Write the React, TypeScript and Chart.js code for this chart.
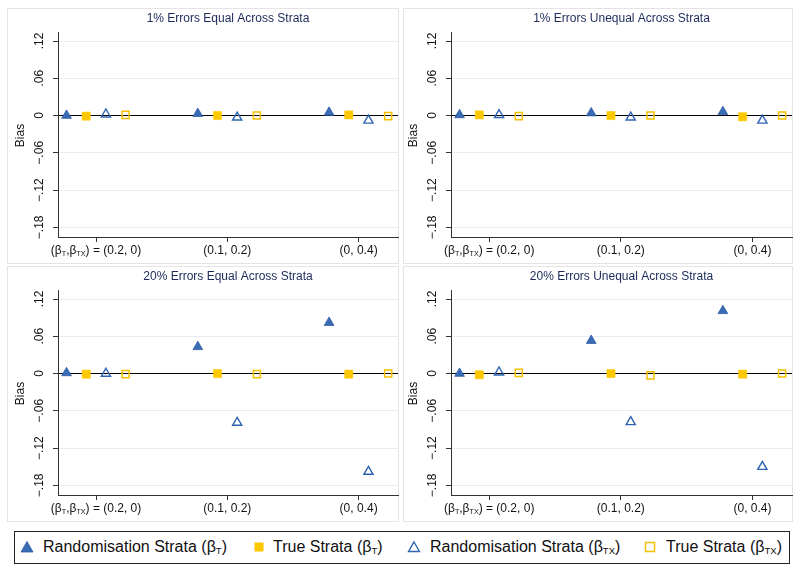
import React, { useEffect, useRef } from 'react';
import { Chart, registerables } from 'chart.js';

Chart.register(...registerables);

const FONT = '"Liberation Sans", Arial, Helvetica, sans-serif';

// ---- data ----
const GROUP_X = [1, 2, 3];
const GROUP_LABELS = ['(β{T},β{TX}) = (0.2, 0)', '(0.1, 0.2)', '(0, 0.4)'];
const Y_TICKS = [0.12, 0.06, 0, -0.06, -0.12, -0.18];
const Y_TICK_LABELS = ['.12', '.06', '0', '−.06', '−.12', '−.18'];
const Y_TITLE = 'Bias';
const SERIES_NAMES = [
  'Randomisation Strata (β{T})',
  'True Strata (β{T})',
  'Randomisation Strata (β{TX})',
  'True Strata (β{TX})',
];
const PANEL_TITLES = [
  '1% Errors Equal Across Strata',
  '1% Errors Unequal Across Strata',
  '20% Errors Equal Across Strata',
  '20% Errors Unequal Across Strata',
];

// 1% errors, equal across strata
const P1_RAND_T = [0.0, 0.003, 0.005];
const P1_TRUE_T = [-0.001, 0.0, 0.001];
const P1_RAND_TX = [0.002, -0.003, -0.008];
const P1_TRUE_TX = [0.001, 0.0, -0.001];
// 1% errors, unequal across strata
const P2_RAND_T = [0.001, 0.004, 0.006];
const P2_TRUE_T = [0.001, 0.0, -0.002];
const P2_RAND_TX = [0.001, -0.003, -0.008];
const P2_TRUE_TX = [-0.001, 0.0, 0.0];
// 20% errors, equal across strata
const P3_RAND_T = [0.001, 0.043, 0.082];
const P3_TRUE_T = [-0.001, 0.0, -0.001];
const P3_RAND_TX = [0.0, -0.079, -0.158];
const P3_TRUE_TX = [-0.001, -0.001, 0.0];
// 20% errors, unequal across strata
const P4_RAND_T = [0.0, 0.053, 0.101];
const P4_TRUE_T = [-0.002, 0.0, -0.001];
const P4_RAND_TX = [0.002, -0.078, -0.15];
const P4_TRUE_TX = [0.001, -0.003, 0.0];

// ---- styling ----
const DODGE = [-0.225, -0.075, 0.075, 0.225];
const BLUE = '#3a6cb5';
const BLUE_EDGE = '#2c5ca6';
const YELLOW = '#fdc800';
const SERIES_STYLES = [
  { pointStyle: 'triangle', radius: 5.6, bg: BLUE, border: BLUE_EDGE, bw: 0.8 },
  { pointStyle: 'rect', radius: 5.8, bg: YELLOW, border: YELLOW, bw: 0.5 },
  { pointStyle: 'triangle', radius: 5.3, bg: 'rgba(255,255,255,0)', border: '#2f64b2', bw: 1.4 },
  { pointStyle: 'rect', radius: 5.0, bg: 'rgba(255,255,255,0)', border: '#f4c000', bw: 1.5 },
];

function parseRich(s: string) {
  const out: { t: string; sub: boolean }[] = [];
  const re = /\{([^}]*)\}/g;
  let last = 0;
  let m: RegExpExecArray | null;
  while ((m = re.exec(s))) {
    if (m.index > last) out.push({ t: s.slice(last, m.index), sub: false });
    out.push({ t: m[1], sub: true });
    last = re.lastIndex;
  }
  if (last < s.length) out.push({ t: s.slice(last), sub: false });
  return out;
}

function drawRich(ctx: CanvasRenderingContext2D, s: string, cx: number, cy: number, size: number) {
  const segs = parseRich(s);
  const subSize = size * 0.6;
  let w = 0;
  segs.forEach((sg) => {
    ctx.font = `${sg.sub ? subSize : size}px ${FONT}`;
    w += ctx.measureText(sg.t).width;
  });
  let x = cx - w / 2;
  const base = cy + size * 0.36;
  ctx.textAlign = 'left';
  ctx.textBaseline = 'alphabetic';
  segs.forEach((sg) => {
    ctx.font = `${sg.sub ? subSize : size}px ${FONT}`;
    ctx.fillText(sg.t, x, sg.sub ? base + size * 0.12 : base);
    x += ctx.measureText(sg.t).width;
  });
}

type PanelProps = {
  left: number;
  top: number;
  width: number;
  height: number;
  axisWidth: number;
  title: string;
  series: number[][];
};

function Panel({ left, top, width, height, axisWidth, title, series }: PanelProps) {
  const ref = useRef<HTMLCanvasElement | null>(null);
  useEffect(() => {
    if (!ref.current) return;
    const textPlugin = {
      id: 'panelText',
      afterDraw(chart: any) {
        const ctx = chart.ctx as CanvasRenderingContext2D;
        const a = chart.chartArea;
        const ys = chart.scales.y;
        const xs = chart.scales.x;
        ctx.save();
        ctx.fillStyle = '#1b2a5a';
        drawRich(ctx, title, (a.left + a.right) / 2, 10, 12);
        ctx.fillStyle = '#111';
        // x tick labels
        GROUP_X.forEach((gx, i) => {
          drawRich(ctx, GROUP_LABELS[i], xs.getPixelForValue(gx), a.bottom + 13, 12);
        });
        // y tick labels, rotated
        Y_TICKS.forEach((v, i) => {
          const py = ys.getPixelForValue(v);
          ctx.save();
          ctx.translate(a.left - 18, py);
          ctx.rotate(-Math.PI / 2);
          ctx.font = `12px ${FONT}`;
          ctx.textAlign = 'center';
          ctx.textBaseline = 'middle';
          ctx.fillText(Y_TICK_LABELS[i], 0, 0);
          ctx.restore();
        });
        // y title
        ctx.save();
        ctx.translate(a.left - 37, (a.top + a.bottom) / 2 + 1);
        ctx.rotate(-Math.PI / 2);
        ctx.font = `12px ${FONT}`;
        ctx.textAlign = 'center';
        ctx.textBaseline = 'middle';
        ctx.fillText(Y_TITLE, 0, 0);
        ctx.restore();
        ctx.restore();
      },
    };
    const chart = new Chart(ref.current, {
      type: 'scatter',
      data: {
        datasets: series.map((vals, si) => ({
          label: SERIES_NAMES[si],
          data: vals.map((v, gi) => ({ x: GROUP_X[gi] + DODGE[si], y: v })),
          pointStyle: SERIES_STYLES[si].pointStyle as any,
          pointRadius: SERIES_STYLES[si].radius,
          pointHoverRadius: SERIES_STYLES[si].radius,
          backgroundColor: SERIES_STYLES[si].bg,
          borderColor: SERIES_STYLES[si].border,
          borderWidth: SERIES_STYLES[si].bw,
          showLine: false,
        })),
      },
      options: {
        responsive: false,
        animation: false,
        events: [],
        layout: { padding: { left: 0, top: 24, right: 1, bottom: 0 }, autoPadding: false },
        plugins: { legend: { display: false }, title: { display: false }, tooltip: { enabled: false } },
        scales: {
          x: {
            type: 'linear',
            min: 0.71,
            max: 3.3,
            afterBuildTicks: (s: any) => {
              s.ticks = GROUP_X.map((v) => ({ value: v }));
            },
            afterFit: (s: any) => {
              s.height = 27;
            },
            ticks: { display: false },
            grid: { drawOnChartArea: false, drawTicks: true, tickLength: 5, tickColor: '#333', color: '#333' },
            border: { display: true, color: '#333', width: 1 },
          },
          y: {
            type: 'linear',
            min: -0.1956,
            max: 0.1345,
            afterBuildTicks: (s: any) => {
              s.ticks = Y_TICKS.map((v) => ({ value: v }));
            },
            afterFit: (s: any) => {
              s.width = axisWidth;
            },
            ticks: { display: false },
            grid: {
              drawTicks: true,
              tickLength: 5,
              tickColor: '#333',
              color: (c: any) => (c.tick && Math.abs(c.tick.value) < 1e-9 ? '#000' : '#e6edf0'),
              lineWidth: 1,
            },
            border: { display: true, color: '#333', width: 1 },
          },
        },
      },
      plugins: [textPlugin],
    } as any);
    return () => chart.destroy();
  }, []);
  return (
    <>
      <div
        style={{
          position: 'absolute',
          left,
          top,
          width,
          height,
          border: '1px solid #e4e4e4',
          boxSizing: 'border-box',
        }}
      />
      <canvas
        ref={ref}
        width={width}
        height={height}
        style={{ position: 'absolute', left, top, width, height }}
      />
    </>
  );
}

function Rich({ s }: { s: string }) {
  return (
    <>
      {parseRich(s).map((sg, i) =>
        sg.sub ? (
          <span key={i} style={{ fontSize: '0.6em', position: 'relative', top: '0.2em' }}>
            {sg.t}
          </span>
        ) : (
          <span key={i}>{sg.t}</span>
        )
      )}
    </>
  );
}

function LegendMarker({ idx }: { idx: number }) {
  if (idx === 0)
    return (
      <svg width="14" height="14" viewBox="0 0 14 14">
        <polygon points="7,1.5 13,12 1,12" fill={BLUE} stroke={BLUE_EDGE} strokeWidth="0.8" />
      </svg>
    );
  if (idx === 1)
    return (
      <svg width="14" height="14" viewBox="0 0 14 14">
        <rect x="2.5" y="2.5" width="9" height="9" fill={YELLOW} />
      </svg>
    );
  if (idx === 2)
    return (
      <svg width="14" height="14" viewBox="0 0 14 14">
        <polygon points="7,2 12.5,11.5 1.5,11.5" fill="none" stroke="#2f64b2" strokeWidth="1.4" />
      </svg>
    );
  return (
    <svg width="14" height="14" viewBox="0 0 14 14">
      <rect x="2.5" y="2.5" width="9" height="9" fill="none" stroke="#f4c000" strokeWidth="1.5" />
    </svg>
  );
}

const LEGEND_MARKER_X = [27, 259, 414, 650];
const LEGEND_TEXT_X = [43, 273, 430, 666];

export default function App() {
  const panels = [
    { left: 7, top: 8, width: 392, height: 256, axisWidth: 51, series: [P1_RAND_T, P1_TRUE_T, P1_RAND_TX, P1_TRUE_TX] },
    { left: 403, top: 8, width: 390, height: 256, axisWidth: 48, series: [P2_RAND_T, P2_TRUE_T, P2_RAND_TX, P2_TRUE_TX] },
    { left: 7, top: 266, width: 392, height: 256, axisWidth: 51, series: [P3_RAND_T, P3_TRUE_T, P3_RAND_TX, P3_TRUE_TX] },
    { left: 403, top: 266, width: 390, height: 256, axisWidth: 48, series: [P4_RAND_T, P4_TRUE_T, P4_RAND_TX, P4_TRUE_TX] },
  ];
  return (
    <div
      style={{
        position: 'absolute',
        left: 0,
        top: 0,
        width: 800,
        height: 571,
        background: '#fff',
        fontFamily: FONT,
        overflow: 'hidden',
      }}
    >
      {panels.map((p, i) => (
        <Panel key={i} {...p} title={PANEL_TITLES[i]} />
      ))}
      <div
        style={{
          position: 'absolute',
          left: 14,
          top: 531,
          width: 776,
          height: 33,
          border: '1px solid #222',
          boxSizing: 'border-box',
        }}
      />
      {SERIES_NAMES.map((name, i) => (
        <React.Fragment key={i}>
          <div style={{ position: 'absolute', left: LEGEND_MARKER_X[i] - 7, top: 540, width: 14, height: 14 }}>
            <LegendMarker idx={i} />
          </div>
          <div
            style={{
              position: 'absolute',
              left: LEGEND_TEXT_X[i],
              top: 537,
              fontSize: 16,
              lineHeight: '20px',
              color: '#111',
              whiteSpace: 'nowrap',
            }}
          >
            <Rich s={name} />
          </div>
        </React.Fragment>
      ))}
    </div>
  );
}
